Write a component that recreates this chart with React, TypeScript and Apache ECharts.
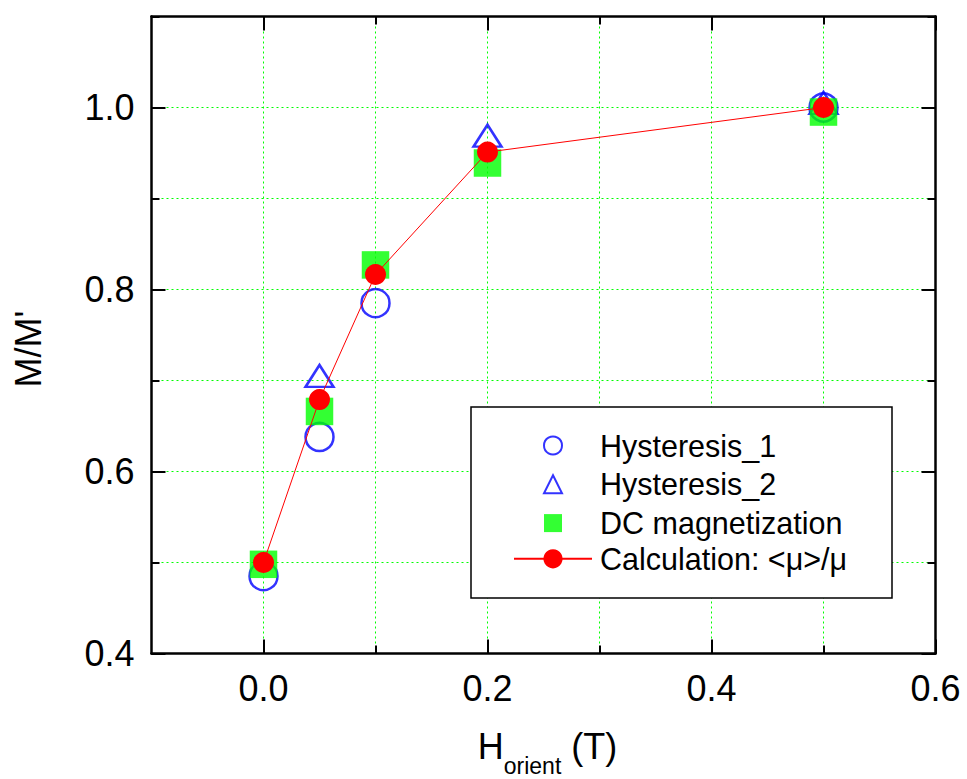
import React, { useEffect, useRef } from 'react';
import * as echarts from 'echarts';

// ---- data ----
const xH1 = [0, 0.05, 0.1, 0.5];
const yH1 = [0.485, 0.638, 0.785, 1.0];
const xH2 = [0.05, 0.2, 0.5];
const yH2 = [0.705, 0.969, 1.005];
const xDC = [0, 0.05, 0.1, 0.2, 0.5];
const yDC = [0.498, 0.666, 0.827, 0.939, 0.995];
const xCalc = [0, 0.05, 0.1, 0.2, 0.5];
const yCalc = [0.5, 0.679, 0.8165, 0.951, 1.0];
const seriesNames = ['Hysteresis_1', 'Hysteresis_2', 'DC magnetization', 'Calculation: <μ>/μ'];
const xMajorTicks = [0, 0.2, 0.4, 0.6];
const xMinorTicks = [0.1, 0.3, 0.5];
const yMajorTicks = [0.4, 0.6, 0.8, 1.0];
const yMinorTicks = [0.5, 0.7, 0.9, 1.1];
const yTitle = "M/M'";

const FONT = '"Liberation Sans", Arial, Helvetica, sans-serif';

const zip = (xs: number[], ys: number[]) => xs.map((x, i) => [x, ys[i]]);

export default function App() {
  const ref = useRef<HTMLDivElement>(null);
  useEffect(() => {
    if (!ref.current) return;
    const chart = echarts.init(ref.current, null, { renderer: 'svg' });
    const xBase = { type: 'value', min: -0.1, max: 0.6, interval: 0.1, gridIndex: 0 };
    const yBase = { type: 'value', min: 0.4, max: 1.1, interval: 0.1, gridIndex: 0 };
    const fmt = (v: number) => Number(v).toFixed(1);
    const mk = (base: any, position: string, ticks: number[], len: number, line: boolean, label: boolean, extra: any = {}) => ({
      ...base,
      position,
      axisLine: { show: line, onZero: false, lineStyle: { color: '#000', width: 2.5 } },
      axisTick: { show: true, inside: true, length: len, customValues: ticks, lineStyle: { color: '#000', width: 2 } },
      axisLabel: label
        ? { show: true, customValues: ticks, formatter: fmt, fontFamily: FONT, fontSize: 36, color: '#000', margin: 17 }
        : { show: false },
      splitLine: { show: false },
      ...extra,
    });
    // axis used only for the dotted green grid at every 0.1
    const gridAxis = (base: any, position: string) => ({
      ...base,
      position,
      axisLine: { show: false },
      axisTick: { show: false },
      axisLabel: { show: false },
      splitLine: { show: true, lineStyle: { color: '#00ff00', width: 1, type: [2, 3] } },
      z: 0,
    });

    const option: any = {
      animation: false,
      backgroundColor: '#fff',
      grid: { left: 151.5, top: 16.5, width: 784, height: 637, containLabel: false, outerBoundsMode: 'none' },
      xAxis: [
        mk(xBase, 'bottom', xMajorTicks, 14, true, true, {
          name: '{h|H}{s|orient}{h| (T)}',
          nameLocation: 'middle',
          nameGap: 74.5,
          nameTextStyle: {
            padding: [0, 0, 0, 8],
            rich: {
              h: { fontFamily: FONT, fontSize: 36, lineHeight: 40, color: '#000', verticalAlign: 'top' },
              s: { fontFamily: FONT, fontSize: 23, lineHeight: 23, color: '#000', verticalAlign: 'top', padding: [26, 0, 0, 0] },
            },
          },
        }),
        mk(xBase, 'bottom', xMinorTicks, 8, false, false),
        mk(xBase, 'top', xMajorTicks, 14, true, false),
        mk(xBase, 'top', xMinorTicks, 8, false, false),
        gridAxis(xBase, 'bottom'),
      ],
      yAxis: [
        mk(yBase, 'left', yMajorTicks, 14, true, true, {
          name: yTitle,
          nameLocation: 'middle',
          nameGap: 105.5,
          nameRotate: 90,
          nameTextStyle: { fontFamily: FONT, fontSize: 36, lineHeight: 36, color: '#000', padding: [0, 28, 0, 0] },
        }),
        mk(yBase, 'left', yMinorTicks, 8, false, false),
        mk(yBase, 'right', yMajorTicks, 14, true, false),
        mk(yBase, 'right', yMinorTicks, 8, false, false),
        gridAxis(yBase, 'left'),
      ],
      legend: [
        {
          orient: 'vertical', left: 543, top: 430, padding: 0,
          itemWidth: 18, itemHeight: 18, itemGap: 7.8,
          data: seriesNames.slice(0, 3), selectedMode: false, z: 5,
          textStyle: { fontFamily: FONT, fontSize: 30.5, color: '#000', lineHeight: 30, padding: [0, 0, 0, 33] },
        },
        {
          orient: 'vertical', left: 513, top: 543.3, padding: 0,
          itemWidth: 78, itemHeight: 24, itemGap: 7.8,
          data: seriesNames.slice(3), selectedMode: false, z: 5,
          textStyle: { fontFamily: FONT, fontSize: 30.5, color: '#000', lineHeight: 30, padding: [0, 0, 0, 3] },
        },
      ],
      graphic: [
        {
          type: 'rect', z: 3,
          shape: { x: 471, y: 407, width: 421, height: 191 },
          style: { fill: '#fff', stroke: '#000', lineWidth: 1.5 },
        },
      ],
      series: [
        {
          name: seriesNames[0], type: 'scatter', data: zip(xH1, yH1),
          symbol: 'circle', symbolSize: 28,
          itemStyle: { color: 'rgba(255,255,255,0)', borderColor: '#0000ff', borderWidth: 2.5 },
        },
        {
          name: seriesNames[1], type: 'scatter', data: zip(xH2, yH2),
          symbol: 'triangle', symbolSize: [28, 22],
          itemStyle: { color: 'rgba(255,255,255,0)', borderColor: '#0000ff', borderWidth: 2.5 },
        },
        {
          name: seriesNames[2], type: 'scatter', data: zip(xDC, yDC),
          symbol: 'rect', symbolSize: 27.5,
          itemStyle: { color: '#00ff00' },
        },
        {
          name: seriesNames[3], type: 'line', data: zip(xCalc, yCalc),
          symbol: 'circle', symbolSize: 21, showSymbol: true,
          itemStyle: { color: '#ff0000' },
          lineStyle: { color: '#ff0000', width: 1 },
        },
      ],
    };
    chart.setOption(option);
    return () => chart.dispose();
  }, []);
  return <div ref={ref} style={{ position: 'fixed', left: 0, top: 0, width: 967, height: 779, background: '#fff' }} />;
}
